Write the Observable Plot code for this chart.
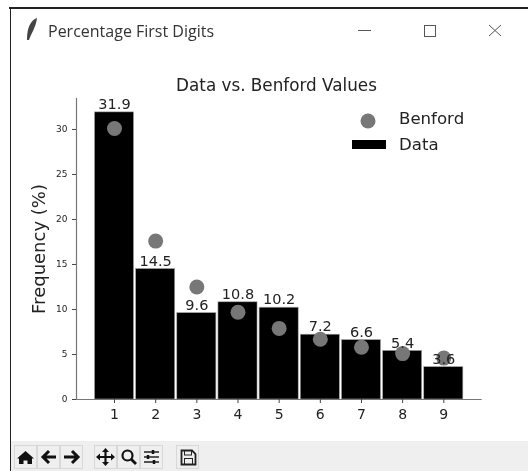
<!DOCTYPE html>
<html><head><meta charset="utf-8">
<script src="https://cdn.jsdelivr.net/npm/d3@7"></script>
<script src="https://cdn.jsdelivr.net/npm/@observablehq/plot@0.6"></script>
<style>
html,body{margin:0;padding:0;background:#fff;overflow:hidden}
#win{position:relative;width:528px;height:471px;overflow:hidden;background:#fff;filter:blur(.4px)}
#win>*{position:absolute}
#chart svg{display:block;background:transparent}
#frameTop{left:9px;top:7px;width:519px;height:2px;background:#222}
#frameLeft{left:9.500px;top:7px;width:1.500px;height:464px;background:#222}
#wtitle{left:48px;top:21px;font:16px/20px "Open Sans",sans-serif;color:#333;white-space:nowrap}
#toolbar{left:11px;top:441px;width:517px;height:30px;background:#efefef}
.leg{font:16.600px/18px "DejaVu Sans",sans-serif;color:#222;white-space:nowrap}
#ctitle{left:0;width:528px;top:75px;padding-left:25px;box-sizing:border-box;text-align:center;font:16.800px/20px "DejaVu Sans",sans-serif;color:#222}
</style></head><body>
<div id="win">
<div id="chart"></div>
<div id="frameTop"></div><div id="frameLeft"></div>
<svg style="left:24px;top:17px" width="16" height="24" viewBox="0 0 16 24"><path d="M13 1 C7 3 3 10 3 23 L5 23 C7 17 12 10 13 1Z" fill="#444"/></svg>
<div id="wtitle">Percentage First Digits</div>
<svg style="left:350px;top:20px" width="160" height="20" fill="none" stroke="#555" stroke-width="1"><path d="M8 10.500H21"/><rect x="74.500" y="5.500" width="11" height="11"/><path d="M139 5L151 16M151 5L139 16"/></svg>
<div id="ctitle">Data vs. Benford Values</div>
<div class="leg" style="left:399px;top:110px">Benford</div>
<div class="leg" style="left:399px;top:136px">Data</div>
<svg style="left:350px;top:112px" width="40" height="40"><circle cx="18" cy="9" r="7.500" fill="#777"/><rect x="2" y="28" width="34" height="9" fill="#000"/></svg>
<div id="toolbar"></div>
<svg style="left:14px;top:445px" width="200" height="24">
<g fill="none" stroke="#d8d8d8"><rect x=".5" y=".5" width="22" height="23"/><rect x="23.500" y=".5" width="22" height="23"/><rect x="46.500" y=".5" width="22" height="23"/><rect x="80.500" y=".5" width="22" height="23"/><rect x="103.500" y=".5" width="22" height="23"/><rect x="126.500" y=".5" width="22" height="23"/><rect x="162.500" y=".5" width="22" height="23"/></g>
<path d="M11.500 6L20 13.500H18V19H13.500V15.500H9.500V19H5V13.500H3Z" fill="#111"/>
<path d="M42 12H30M35 6L29 12L35 18" fill="none" stroke="#111" stroke-width="3"/>
<path d="M50 12H63M58 6L64 12L58 18" fill="none" stroke="#111" stroke-width="3"/>
<path d="M91.500 5V19M84 12H99" stroke="#111" stroke-width="2.200"/><path d="M91.500 3L88 7H95ZM91.500 21L88 17H95ZM82 12L86 8.500V15.500ZM101 12L97 8.500V15.500Z" fill="#111"/>
<circle cx="113.500" cy="10.500" r="5" fill="none" stroke="#111" stroke-width="2.200"/><path d="M117 14L122 19" stroke="#111" stroke-width="2.800"/>
<path d="M130 7H145M130 12H145M130 17H145" stroke="#222" stroke-width="1.500"/><path d="M139 5V9M134 10V14M140 15V19" stroke="#111" stroke-width="2.500"/>
<path d="M167.500 5.500H178L181.500 9V19.500H167.500Z" fill="none" stroke="#222" stroke-width="1.800"/><rect x="170.500" y="5.500" width="7" height="4.500" fill="none" stroke="#222"/><rect x="170.500" y="13.500" width="8" height="6" fill="none" stroke="#222"/>
</svg>
</div>
<script>
const digits=[1,2,3,4,5,6,7,8,9];
const dataValues=[31.9,14.5,9.6,10.8,10.2,7.2,6.6,5.4,3.6];
const benfordValues=[30.1,17.6,12.5,9.7,7.9,6.7,5.8,5.1,4.6];
const yTicks=[0,5,10,15,20,25,30];
const xMin=0.0765,xMax=9.933,yMax=33.44;
const barHalf=0.475;
const rows=digits.map((d,i)=>({d,v:dataValues[i],b:benfordValues[i]}));
const font='"DejaVu Sans",sans-serif';
const plot=Plot.plot({
  width:528,height:471,
  marginLeft:76,marginRight:46.3,marginTop:98,marginBottom:72,
  style:{background:"transparent",fontFamily:font,color:"#222"},
  x:{domain:[xMin,xMax],label:null},
  y:{domain:[0,yMax],label:null},
  marks:[
    Plot.rectY(rows,{x1:d=>d.d-barHalf,x2:d=>d.d+barHalf,y1:0,y2:"v",fill:"#000",stroke:"#aaa",strokeWidth:.6}),
    Plot.ruleX([xMin],{stroke:"#777",strokeWidth:1.2}),
    Plot.ruleY([0],{stroke:"#777",strokeWidth:1.2}),
    Plot.dot(rows,{x:"d",y:"b",r:7.5,fill:"#777"}),
    Plot.text(rows,{x:"d",y:"v",text:d=>d.v.toFixed(1),dy:-8,fontSize:14.5,fill:"#222"}),
    Plot.axisX({ticks:digits,tickFormat:d=>d,tickSize:4,tickPadding:6,fontSize:14,stroke:"#444",fill:"#222",label:null}),
    Plot.axisY({ticks:yTicks,tickFormat:d=>d,tickSize:4,tickPadding:5,fontSize:9,stroke:"#444",fill:"#222",label:null}),
    Plot.text(["Frequency (%)"],{frameAnchor:"left",textAnchor:"middle",dx:-37,text:d=>d,rotate:-90,fontSize:18,fill:"#222"})
  ]
});
document.getElementById("chart").append(plot);
</script>
</body></html>
